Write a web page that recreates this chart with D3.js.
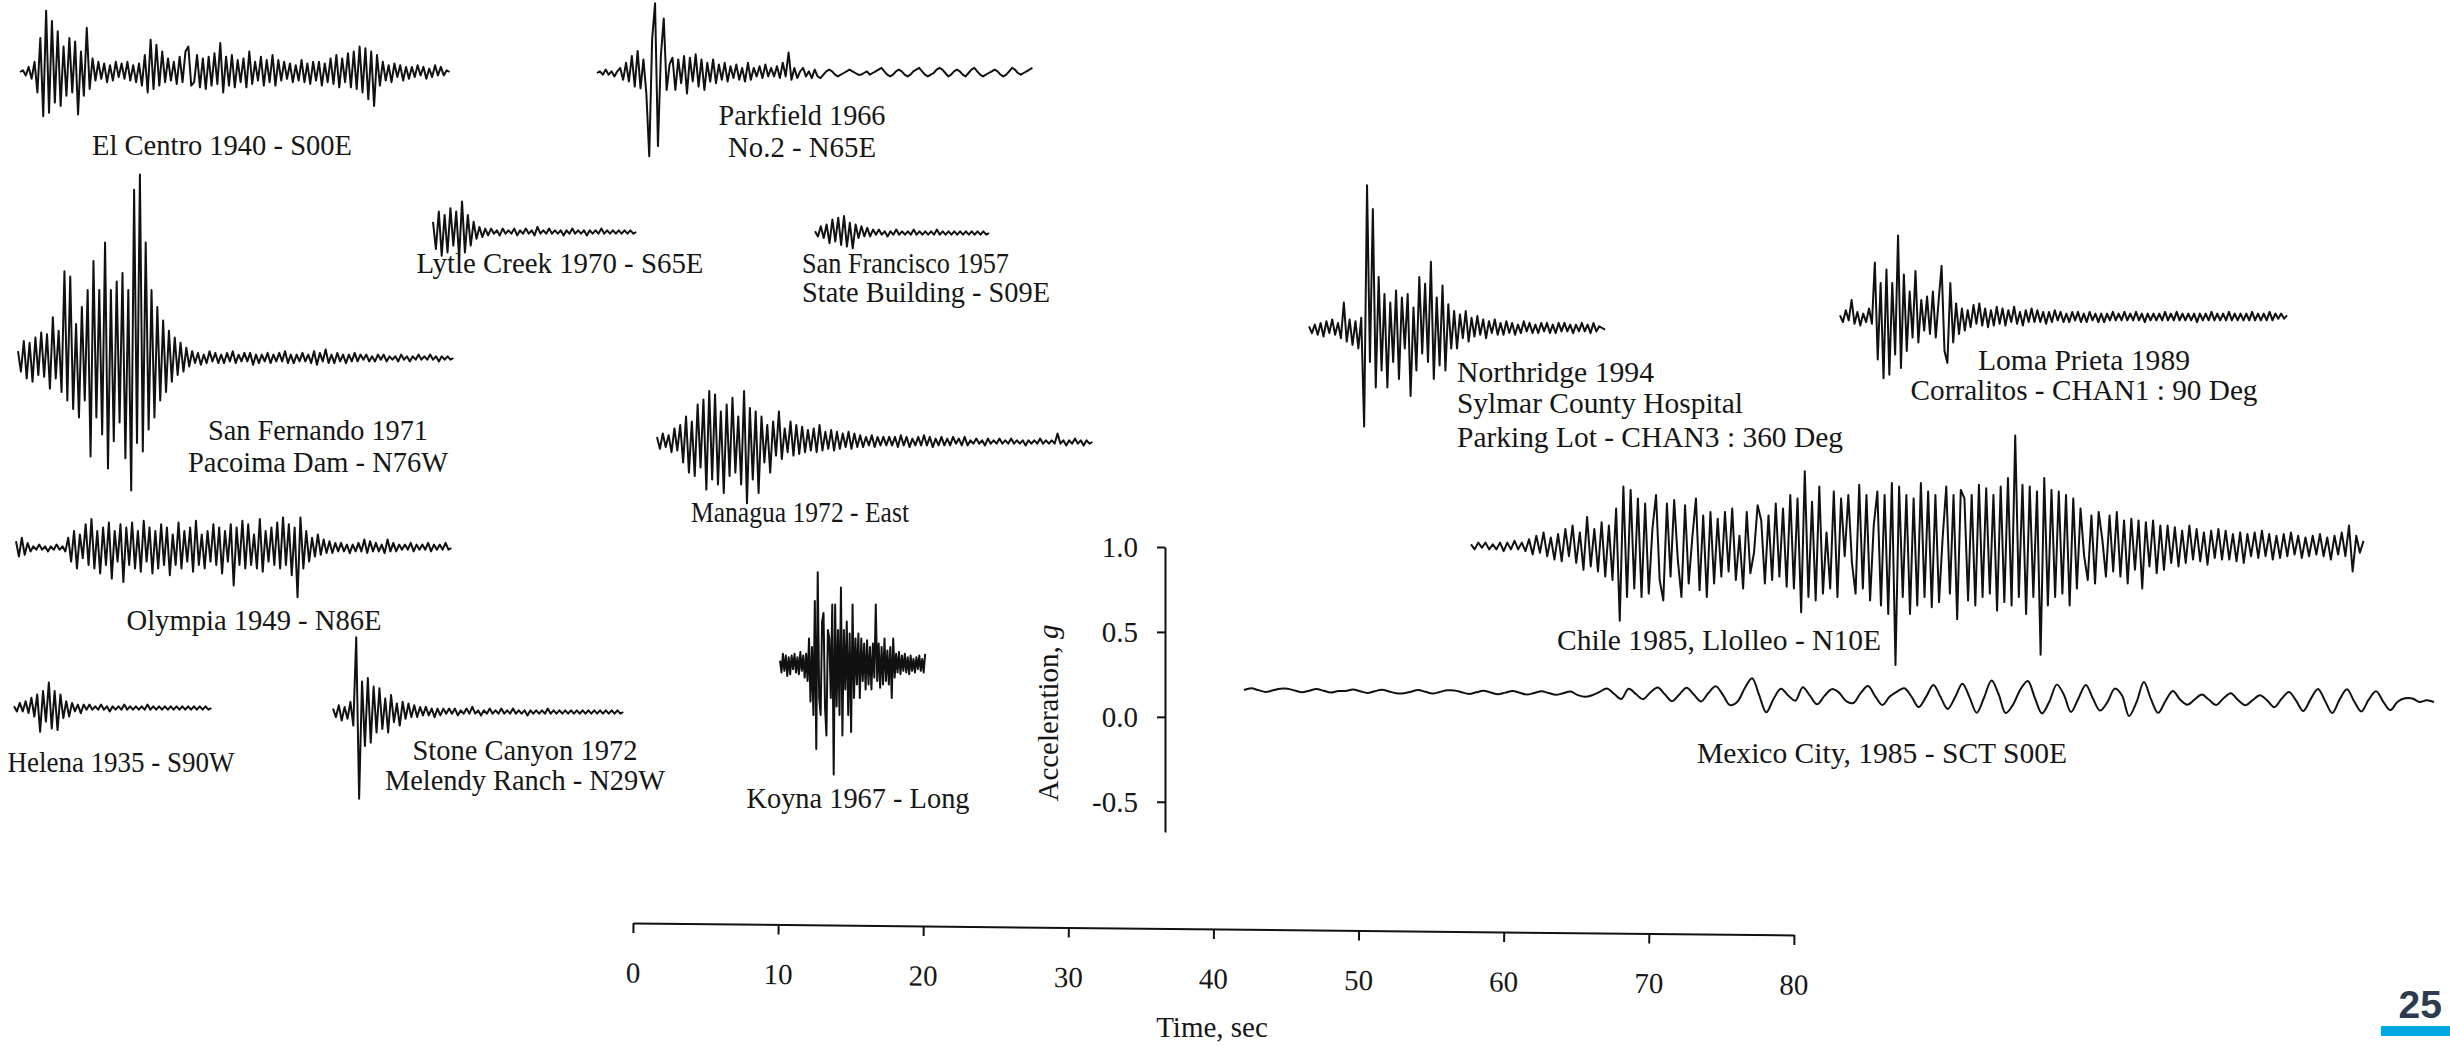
<!DOCTYPE html>
<html>
<head>
<meta charset="utf-8">
<script src="https://cdn.jsdelivr.net/npm/d3@7"></script>
<style>
  body { margin: 0; background: #fff; }
  svg text { font-family: "Liberation Serif", "Times New Roman", serif; fill: #161616; }
  .trace { fill: none; stroke: #111; stroke-width: 2; stroke-linejoin: round; }
</style>
</head>
<body>
<div id="chart"></div>
<script>
// ground acceleration records, in 0.01 g, one value every dt seconds
const elCentro = [
  0,1,-2,3,-4,6,
  -12,20,-26,36,-24,30,-18,24,-20,15,
  -14,20,-12,18,-25,12,-14,26,-10,8,
  -5,6,-4,5,-6,4,-5,6,-3,5,
  -4,6,-5,4,-6,5,-8,10,-12,19,
  -10,16,-8,12,-6,8,-5,6,-7,9,
  -6,12,15,-8,-6,10,-9,8,-10,9,
  -8,11,-7,17,-12,9,-8,10,-9,7,
  -6,8,-9,12,-7,6,-5,9,-8,7,
  -6,10,-8,7,-5,6,-4,5,-6,4,
  -5,7,-6,5,-7,6,-5,6,-8,5,
  -6,8,-7,10,-9,8,-6,11,-9,12,
  -10,15,-12,14,-16,12,-20,10,-8,6,
  -5,4,-6,5,-3,4,-5,3,-4,3,
  -3,4,-2,3,-4,2,-3,4,-2,3,
  -2,1,0
];
const parkfield = [
  0,1,-1,2,-1,1,-2,1,
  3,-4,6,-5,10,-8,13,-9,
  8,-12,-49,20,41,-43,10,32,-10,5,
  9,-10,8,-6,10,-12,9,-5,11,-8,
  8,-10,6,-5,8,-6,5,-4,6,-5,
  4,-3,5,-4,3,-5,6,-4,3,-2,
  4,-3,5,-2,3,-2,4,-3,6,-2,
  12,-4,3,-3,1,3,-2,1,-3,2,
  -2,-3,-1,1,2,1,-1,-2,-1,0,
  1,2,1,0,-1,-1,0,1,-1,0,
  1,2,3,1,-1,-2,-1,1,2,1,
  -1,-2,-1,1,2,3,1,-1,-2,-1,
  0,2,3,2,0,-2,-1,1,2,1,
  -1,-2,0,2,3,1,-1,-2,-1,0,
  1,2,1,-1,-2,-1,1,3,2,0,
  -1,0,1,2,3
];
const sanFernando = [
  4,-8,10,-12,9,-14,12,-10,15,-11,
  14,-18,24,-12,16,-20,51,-25,48,-30,
  20,-35,30,-25,40,-58,57,-35,40,-45,
  68,-65,40,-49,45,-38,50,-59,40,-78,
  99,-50,108,-55,68,-42,40,-35,30,-25,
  22,-20,16,-14,12,-10,9,-8,6,-5,
  4,-3,3,-4,2,-3,4,-2,3,-3,
  2,-3,3,-2,4,-3,2,-2,3,-2,
  3,-4,2,-3,2,-2,3,-3,2,-2,
  3,-2,4,-3,2,-3,2,-2,3,-2,
  2,-3,4,-4,3,-2,5,-3,2,-3,
  3,-2,2,-3,2,-2,3,-2,2,-1,
  2,-2,1,-2,2,-1,2,-2,1,-1,
  1,-2,2,-1,1,-2,1,-1,2,-1,
  1,-1,2,-1,1,-2,1,-1,1,-1,
  0
];
const lytleCreek = [
  6,-10,12,-14,10,-12,14,-8,12,-15,
  18,-12,10,-8,6,-4,3,-3,2,-2,
  2,-1,1,-2,2,-1,1,-1,2,-2,
  1,-1,2,-1,1,-2,3,-1,1,-1,
  2,-1,1,-1,1,-2,1,-1,2,-1,
  1,-1,1,-2,1,-1,1,-1,2,-1,
  1,-1,1,-1,1,-1,1,-1,1,-1,
  0
];
const sanFrancisco = [
  1,-2,4,-3,5,-6,8,-5,9,-7,
  10,-8,6,-9,5,-3,4,-2,3,-2,
  2,-1,2,-1,1,-2,1,-1,2,-1,
  1,-1,1,-1,2,-1,1,-1,1,-1,
  1,-1,2,-1,1,-1,1,-1,1,-1,
  1,-1,1,-1,1,-1,1,-1,1,-1,
  0
];
const northridge = [
  1,-3,2,-4,3,-5,4,-3,5,-4,
  3,-6,15,-8,5,-10,4,-12,6,-58,
  84,-20,70,-35,30,-25,20,-35,15,-20,
  22,-30,18,-12,20,-40,12,-25,30,-15,
  26,-20,39,-30,18,-22,25,-25,14,-12,
  10,-12,8,-6,10,-8,6,-5,7,-4,
  5,-6,4,-3,5,-4,3,-4,4,-3,
  3,-4,2,-3,4,-2,3,-3,2,-3,
  3,-2,3,-3,2,-3,3,-2,3,-2,
  2,-3,2,-2,3,-2,2,-3,3,-2,
  1,0,-1
];
const lomaPrieta = [
  1,-3,4,-2,10,-4,3,-5,2,-3,
  5,-4,32,-25,20,-36,28,-34,20,-22,
  48,-30,25,-20,15,-12,27,-15,10,-8,
  12,-10,15,-12,10,30,-20,-27,20,-15,
  8,-10,5,-8,4,-6,7,-4,8,-5,
  5,-6,4,-5,6,-4,5,-5,4,-3,
  6,-4,3,-5,4,-3,5,-3,4,-3,
  3,-4,3,-3,4,-2,3,-3,2,-3,
  3,-2,3,-3,2,-3,3,-2,2,-3,
  2,-3,2,-2,3,-2,2,-2,3,-2,
  2,-2,3,-2,2,-3,2,-2,2,-2,
  2,-2,3,-2,2,-2,3,-2,2,-2,
  2,-2,2,-3,2,-2,2,-2,3,-2,
  2,-2,2,-2,3,-2,2,-2,2,-2,
  2,-2,3,-2,2,-2,2,-2,3,-2,
  2,-1,2,-1,1
];
const managua = [
  3,-4,5,-3,4,-6,8,-5,10,-12,
  15,-18,12,-20,22,-15,25,-28,30,-22,
  28,-25,18,-30,22,-20,26,-18,15,-25,
  30,-36,20,-22,18,-30,15,-12,10,-18,
  12,-8,18,-10,8,-6,12,-8,10,-7,
  9,-6,7,-5,8,-6,10,-5,6,-4,
  7,-5,6,-4,5,-3,6,-4,5,-3,
  4,-3,3,-2,4,-3,3,-2,3,-2,
  3,-2,3,-3,4,-2,3,-3,2,-2,
  3,-2,4,-2,3,-3,2,-2,3,-2,
  2,-2,3,-1,2,-2,3,-2,1,-1,
  2,-1,1,-2,2,-1,1,-1,2,-1,
  1,-1,2,-1,1,-1,1,-2,1,-1,
  1,-1,2,-1,1,-1,1,-1,5,-1,
  1,-2,1,-1,2,-1,1,-2,1,-1,
  0
];
const olympia = [
  4,-5,6,-4,3,-2,1,-1,2,-1,
  1,-2,1,-1,2,-1,1,-2,6,-8,
  10,-12,8,-6,14,-10,17,-12,10,-15,
  12,-10,15,-18,10,-8,14,-20,12,-10,
  15,-12,10,-14,16,-8,12,-15,10,-12,
  14,-10,12,-16,8,-10,15,-12,10,-8,
  12,-14,16,-10,8,-12,10,-8,14,-10,
  12,-15,10,-8,14,-22,12,-10,16,-12,
  14,-10,8,-12,17,-14,10,-8,12,-10,
  15,-12,18,-10,14,-16,12,-29,18,-12,
  10,-8,6,-5,8,-4,5,-3,4,-3,
  3,-2,3,-2,2,-3,2,-2,3,-2,
  5,-3,4,-2,3,-2,2,-3,5,-2,
  3,-2,2,-1,2,-1,3,-2,2,-1,
  2,-1,3,-2,2,-1,2,-1,3,-1,
  0
];
const helena = [
  1,-2,3,-2,4,-3,6,-5,8,-14,
  10,-8,15,-12,10,-13,8,-6,4,-5,
  3,-2,2,-3,2,-1,2,-1,1,-1,
  2,-1,1,-2,1,-1,1,-1,2,-1,
  1,-1,1,-1,1,-1,2,-1,1,-1,
  1,-1,1,-1,1,-1,1,-1,1,-1,
  1,-1,1,-1,1,-1,1,-1,0
];
const stoneCanyon = [
  2,-3,4,-5,3,-4,6,-8,44,-51,
  18,-20,20,-18,15,-12,14,-10,8,-12,
  10,-6,5,-8,6,-4,5,-3,4,-3,
  3,-2,3,-2,2,-3,2,-2,2,-1,
  2,-1,2,-2,1,-1,2,-1,3,-1,
  1,-2,1,-1,2,-1,1,-1,2,-1,
  1,-1,2,-1,1,-1,1,-2,1,-1,
  1,-1,1,-1,2,-1,1,-1,1,-1,
  1,-1,1,-1,1,-1,1,-1,1,-1,
  1,-1,1,-1,1,-1,1,-1,1,-1,
  0
];
const koyna = [
  2,-5,6,-4,5,-7,4,-6,5,-3,
  6,-5,4,-6,7,-4,5,-8,6,-10,
  15,-22,10,-30,37,-50,54,-20,-30,25,
  30,-25,-42,20,15,-20,35,-65,35,-25,
  20,-30,45,-42,20,-15,25,-30,18,-40,
  35,-20,15,-12,18,-20,15,-10,12,-15,
  14,-12,10,-15,12,-8,35,-10,12,-14,
  10,-12,15,-10,8,-12,10,-20,15,-8,
  6,-5,7,-6,5,-4,6,-5,4,-6,
  5,-4,3,-5,4,-3,5,-4,3,-5,6
];
const chile = [
  1,-2,2,-1,2,-2,1,-2,
  2,-3,2,-2,3,-2,2,-3,
  4,-5,6,-4,8,-6,5,-8,
  7,-9,10,-6,12,-10,8,-14,
  17,-12,10,-15,14,-18,12,-20,
  22,-44,35,-30,33,-25,28,-30,
  25,-28,10,30,-20,-32,25,-18,
  27,-8,-30,24,-22,5,28,-26,
  18,-30,20,-22,16,-18,20,-15,
  22,-20,6,-25,20,-16,-4,24,
  15,-22,18,-20,25,-18,22,-24,
  30,-25,28,-39,44,-30,26,-32,
  35,-28,8,-25,32,-30,28,-6,
  30,-10,-28,36,-25,30,-32,12,
  32,-35,30,-40,37,-70,35,-30,
  30,-40,28,-35,37,-30,32,-36,
  30,-33,5,35,-28,30,-43,33,
  28,-32,30,-35,36,-30,34,-28,
  30,-38,35,-33,40,-35,65,-30,
  36,-40,35,-30,32,-64,40,-35,
  33,-30,32,-28,30,-35,28,-25,
  22,-6,-20,18,-22,20,4,-18,
  18,-15,20,-18,15,-22,16,-14,
  15,-25,14,-12,15,-16,12,-14,
  12,-10,11,-12,9,-10,12,-8,
  10,-9,8,-11,9,-7,10,-8,
  9,-8,7,-9,8,-10,7,-6,
  8,-7,9,-6,7,-8,6,-7,
  7,-6,8,-5,6,-7,5,-6,
  6,-5,7,-6,5,-8,6,-5,
  8,-6,12,-15,6,-4,3
];
const mexicoCity = [
  0,1,0,-1,0,1,1,0,
  -1,0,1,0,-1,0,0,1,
  0,-1,0,1,0,-1,-1,0,
  1,0,-1,0,1,1,0,-1,
  0,1,0,-1,0,1,0,-1,
  0,1,0,-1,0,1,-1,-2,
  -1,1,3,0,-3,3,0,-3,
  1,4,0,-4,0,4,0,-4,
  1,5,0,-6,-4,4,10,0,
  -10,-2,4,0,-3,5,0,-5,
  0,4,2,-3,-4,2,6,0,
  -5,0,3,5,0,-6,0,7,
  0,-7,0,8,0,-9,0,10,
  2,-9,-4,5,10,0,-9,-2,
  8,2,-8,0,8,0,-7,-2,
  6,2,-10,-2,10,0,-8,-1,
  5,0,-3,0,3,0,-3,1,
  4,0,-3,0,3,0,-4,1,
  5,0,-6,1,7,0,-7,1,
  7,0,-6,1,6,0,-5,0,
  2,2,0,1,0
];

const records = [elCentro, parkfield, sanFernando, lytleCreek, sanFrancisco, northridge, lomaPrieta,
                 managua, olympia, helena, stoneCanyon, koyna, chile, mexicoCity];

const recordLabels = [
  ["El Centro 1940 - S00E"],
  ["Parkfield 1966", "No.2 - N65E"],
  ["San Fernando 1971", "Pacoima Dam - N76W"],
  ["Lytle Creek 1970 - S65E"],
  ["San Francisco 1957", "State Building - S09E"],
  ["Northridge 1994", "Sylmar County Hospital", "Parking Lot - CHAN3 : 360 Deg"],
  ["Loma Prieta 1989", "Corralitos - CHAN1 : 90 Deg"],
  ["Managua 1972 - East"],
  ["Olympia 1949 - N86E"],
  ["Helena 1935 - S90W"],
  ["Stone Canyon 1972", "Melendy Ranch - N29W"],
  ["Koyna 1967 - Long"],
  ["Chile 1985, Llolleo - N10E"],
  ["Mexico City, 1985 - SCT S00E"]
];

const timeTicks = [0, 10, 20, 30, 40, 50, 60, 70, 80];
const accelTicks = [-0.5, 0.0, 0.5, 1.0];

// where each record sits on the page (trace origin, label position)
const layout = [
  { dt: 0.2,  x: 20,   y: 72,  lx: 222,  ly: [155],          anchor: "middle", lw: [260] },
  { dt: 0.2,  x: 597,  y: 73,  lx: 802,  ly: [125, 157],     anchor: "middle", lw: [167, 148] },
  { dt: 0.2,  x: 18,   y: 358, lx: 318,  ly: [440, 472],     anchor: "middle", lw: [220, 260] },
  { dt: 0.2,  x: 433,  y: 232, lx: 560,  ly: [273],          anchor: "middle", lw: [287] },
  { dt: 0.2,  x: 815,  y: 233, lx: 802,  ly: [273, 302],     anchor: "start",  lw: [207, 248] },
  { dt: 0.2,  x: 1309, y: 328, lx: 1457, ly: [382, 413, 447], anchor: "start", lw: [197, 286, 386] },
  { dt: 0.2,  x: 1840, y: 317, lx: 2084, ly: [370, 400],     anchor: "middle", lw: [212, 347] },
  { dt: 0.2,  x: 657,  y: 442, lx: 800,  ly: [522],          anchor: "middle", lw: [218] },
  { dt: 0.2,  x: 16,   y: 548, lx: 254,  ly: [630],          anchor: "middle", lw: [255] },
  { dt: 0.2,  x: 14,   y: 708, lx: 121,  ly: [772],          anchor: "middle", lw: [227] },
  { dt: 0.2,  x: 333,  y: 712, lx: 525,  ly: [760, 790],     anchor: "middle", lw: [225, 280] },
  { dt: 0.1,  x: 780,  y: 664, lx: 858,  ly: [808],          anchor: "middle", lw: [223] },
  { dt: 0.25, x: 1471, y: 546, lx: 1719, ly: [650],          anchor: "middle", lw: [324] },
  { dt: 0.5,  x: 1244, y: 690, lx: 1882, ly: [763],          anchor: "middle", lw: [370], tilt: 0.58, smooth: true }
];

const W = 2450, H = 1046;
const fontSize = 29;

const svg = d3.select("#chart")
  .append("svg")
  .attr("width", W)
  .attr("height", H);

svg.append("rect").attr("width", W).attr("height", H).attr("fill", "#fff");

// common scales: time (sec) -> px along a trace, acceleration (g) -> px
const timeScale = d3.scaleLinear().domain([0, 80]).range([0, 1161]);
const ampScale = d3.scaleLinear().domain([0, 1]).range([0, -170]);
const accScale = d3.scaleLinear().domain([-0.678, 1.0]).range([832, 547]);

// traces
records.forEach((rec, k) => {
  const lay = layout[k];
  const line = d3.line()
    .x((d, i) => timeScale(i * lay.dt))
    .y(d => ampScale(d / 100))
    .curve(lay.smooth ? d3.curveCatmullRom : d3.curveLinear);

  svg.append("g")
    .attr("transform", `translate(${lay.x},${lay.y}) rotate(${lay.tilt || 0})`)
    .append("path")
    .attr("class", "trace")
    .attr("d", line(rec));

  // labels
  recordLabels[k].forEach((txt, j) => {
    svg.append("text")
      .attr("x", lay.lx)
      .attr("y", lay.ly[j])
      .attr("text-anchor", lay.anchor)
      .attr("font-size", fontSize)
      .attr("textLength", lay.lw[j])
      .attr("lengthAdjust", "spacingAndGlyphs")
      .text(txt);
  });
});

// acceleration axis (plain hyphen for the minus, as printed)
const yAxis = svg.append("g")
  .attr("transform", "translate(1165,0)")
  .call(d3.axisLeft(accScale)
    .tickValues(accelTicks)
    .tickFormat(d => d.toFixed(1))
    .tickSize(8)
    .tickPadding(19)
    .tickSizeOuter(0));
yAxis.attr("font-size", null).attr("font-family", null);
yAxis.selectAll("text").attr("font-size", fontSize).attr("fill", "#161616");
yAxis.selectAll("line, path").attr("stroke", "#111").attr("stroke-width", 2);

const accLabel = svg.append("text")
  .attr("transform", "translate(1058,713) rotate(-90)")
  .attr("text-anchor", "middle")
  .attr("font-size", fontSize);
accLabel.append("tspan").text("Acceleration, ");
accLabel.append("tspan").attr("font-style", "italic").text("g");

// time axis (the scan is slightly rotated)
const xAxis = svg.append("g")
  .attr("transform", "translate(633,923) rotate(0.59)")
  .call(d3.axisBottom(timeScale)
    .tickValues(timeTicks)
    .tickFormat(d3.format("d"))
    .tickSize(10)
    .tickPadding(29)
    .tickSizeOuter(0));
xAxis.attr("font-size", null).attr("font-family", null);
xAxis.selectAll("text").attr("font-size", fontSize).attr("fill", "#161616");
xAxis.selectAll("line, path").attr("stroke", "#111").attr("stroke-width", 2);

svg.append("text")
  .attr("x", 1212)
  .attr("y", 1037)
  .attr("text-anchor", "middle")
  .attr("font-size", fontSize)
  .text("Time, sec");

// page number
svg.append("text")
  .attr("x", 2442)
  .attr("y", 1018)
  .attr("text-anchor", "end")
  .style("font-family", "'Liberation Sans', Arial, sans-serif")
  .style("font-weight", "bold")
  .style("font-size", "39px")
  .style("fill", "#2e3b4e")
  .text("25");

svg.append("rect")
  .attr("x", 2381)
  .attr("y", 1026)
  .attr("width", 69)
  .attr("height", 10)
  .attr("fill", "#00a8e1");
</script>
</body>
</html>
